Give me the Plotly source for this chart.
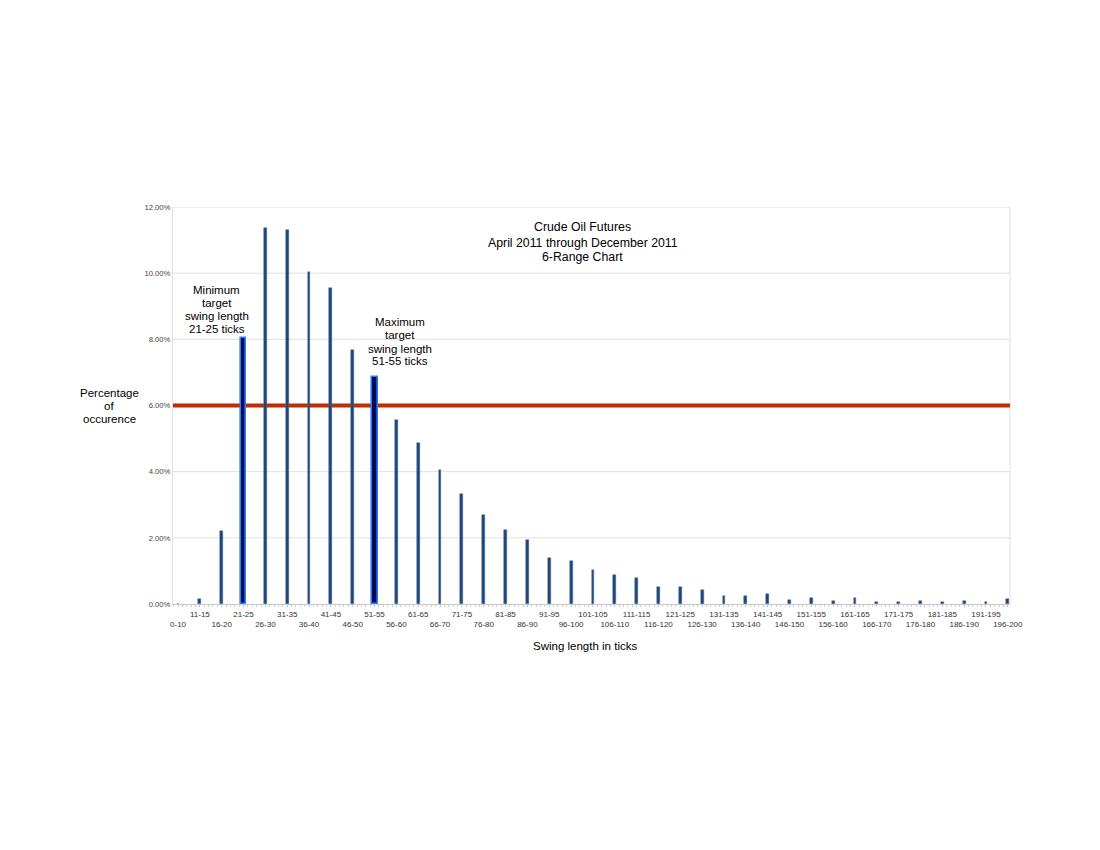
import plotly.graph_objects as go

categories = ["0-10", "11-15", "16-20", "21-25", "26-30", "31-35", "36-40", "41-45",
              "46-50", "51-55", "56-60", "61-65", "66-70", "71-75", "76-80", "81-85",
              "86-90", "91-95", "96-100", "101-105", "106-110", "111-115", "116-120",
              "121-125", "126-130", "131-135", "136-140", "141-145", "146-150",
              "151-155", "156-160", "161-165", "166-170", "171-175", "176-180",
              "181-185", "186-190", "191-195", "196-200"]
percent = [0.0, 0.15, 2.21, 8.04, 11.36, 11.30, 10.05, 9.54, 7.68, 6.86, 5.56, 4.88,
           4.04, 3.34, 2.68, 2.23, 1.92, 1.40, 1.30, 1.04, 0.87, 0.78, 0.52, 0.50,
           0.42, 0.25, 0.24, 0.29, 0.13, 0.17, 0.10, 0.17, 0.07, 0.05, 0.08, 0.06,
           0.08, 0.05, 0.16]
highlighted = ["21-25", "51-55"]
threshold = 6.0
y_ticks = [0, 2, 4, 6, 8, 10, 12]

title_lines = ["Crude Oil Futures", "April 2011 through December 2011", "6-Range Chart"]
min_lines = ["Minimum", "target", "swing length", "21-25 ticks"]
max_lines = ["Maximum", "target", "swing length", "51-55 ticks"]
ylabel_lines = ["Percentage", "of", "occurence"]
xlabel = "Swing length in ticks"

xs = list(range(len(categories)))
is_hl = [c in highlighted for c in categories]
ticktext = [c if i % 2 == 1 else "<br>" + c for i, c in enumerate(categories)]

font_main = "Liberation Sans, Arial, sans-serif"

# page pixel geometry of the plot area (window coords; body has 8px margin)
OFF = 8
L, R, T, B = 173, 1010.5, 206.5, 604.5
W, H = 1100 - OFF, 850 - OFF


def px2paper(px, py):
    return (px - L) / (R - L), (B - py) / (B - T)


fig = go.Figure()
fig.add_trace(go.Bar(
    x=xs, y=percent,
    width=[0.27 if h else 0.13 for h in is_hl],
    marker=dict(
        color=["#000a5a" if h else "#1d4677" for h in is_hl],
        line=dict(color=["#2f7fee" if h else "#50739c" for h in is_hl],
                  width=[1.6 if h else 0.5 for h in is_hl]),
    ),
    showlegend=False,
))

# horizontal gridlines drawn as shapes so the threshold line sits on top of them
shapes = [
    dict(type="line", xref="paper", yref="y", x0=0, x1=1, y0=v, y1=v,
         line=dict(color="#e0e0e0", width=1), layer="below")
    for v in y_ticks if v > 0
]
shapes += [
    dict(type="line", xref="paper", yref="paper", x0=1, x1=1, y0=0, y1=1,
         line=dict(color="#e0e0e0", width=1), layer="below"),
    dict(type="line", xref="paper", yref="y", x0=0, x1=1, y0=threshold, y1=threshold,
         line=dict(color="#c02c00", width=4), layer="below"),
]


def add_lines(lines, cx, ys, size):
    for txt, yy in zip(lines, ys):
        ax, ay = px2paper(cx, yy)
        fig.add_annotation(xref="paper", yref="paper", x=ax, y=ay, xanchor="center",
                           yanchor="middle", text=txt, showarrow=False,
                           font=dict(size=size, color="#000", family=font_main))


add_lines(title_lines, 583, [227, 242.3, 257], 12.3)
add_lines(min_lines, 217, [289.3, 303, 316, 329.3], 11.5)
add_lines(max_lines, 400, [321.7, 335.3, 348.7, 361], 11.5)
add_lines(ylabel_lines, 109, [393.3, 405.8, 419.3], 11.5)
add_lines([xlabel], 585, [647], 11.5)

fig.update_layout(
    width=W, height=H,
    margin=dict(l=L - OFF, r=W - (R - OFF), t=T - OFF, b=H - (B - OFF), pad=0),
    paper_bgcolor="white", plot_bgcolor="white",
    bargap=0,
    font=dict(family=font_main, color="#444"),
    shapes=shapes,
    xaxis=dict(
        range=[-0.23, 38.1], tickmode="array", tickvals=xs, ticktext=ticktext,
        tickangle=0, tickfont=dict(size=8, color="#333"),
        ticks="outside", ticklen=2, tickcolor="#c8c8c8", showgrid=False,
        showline=True, linecolor="#c8c8c8", linewidth=1, mirror=False, zeroline=False,
        minor=dict(ticks="outside", tick0=0, dtick=0.2, ticklen=2, tickcolor="#d0d0d0",
                   showgrid=False),
        fixedrange=True,
    ),
    yaxis=dict(
        range=[0, 12], tickvals=y_ticks, ticktext=[f"{v:.2f}%" for v in y_ticks],
        tickfont=dict(size=7.7, color="#444"), showgrid=False,
        showline=True, linecolor="#e0e0e0", zeroline=False, ticks="",
        ticklen=0,
    ),
)

fig.write_html("out.html")
